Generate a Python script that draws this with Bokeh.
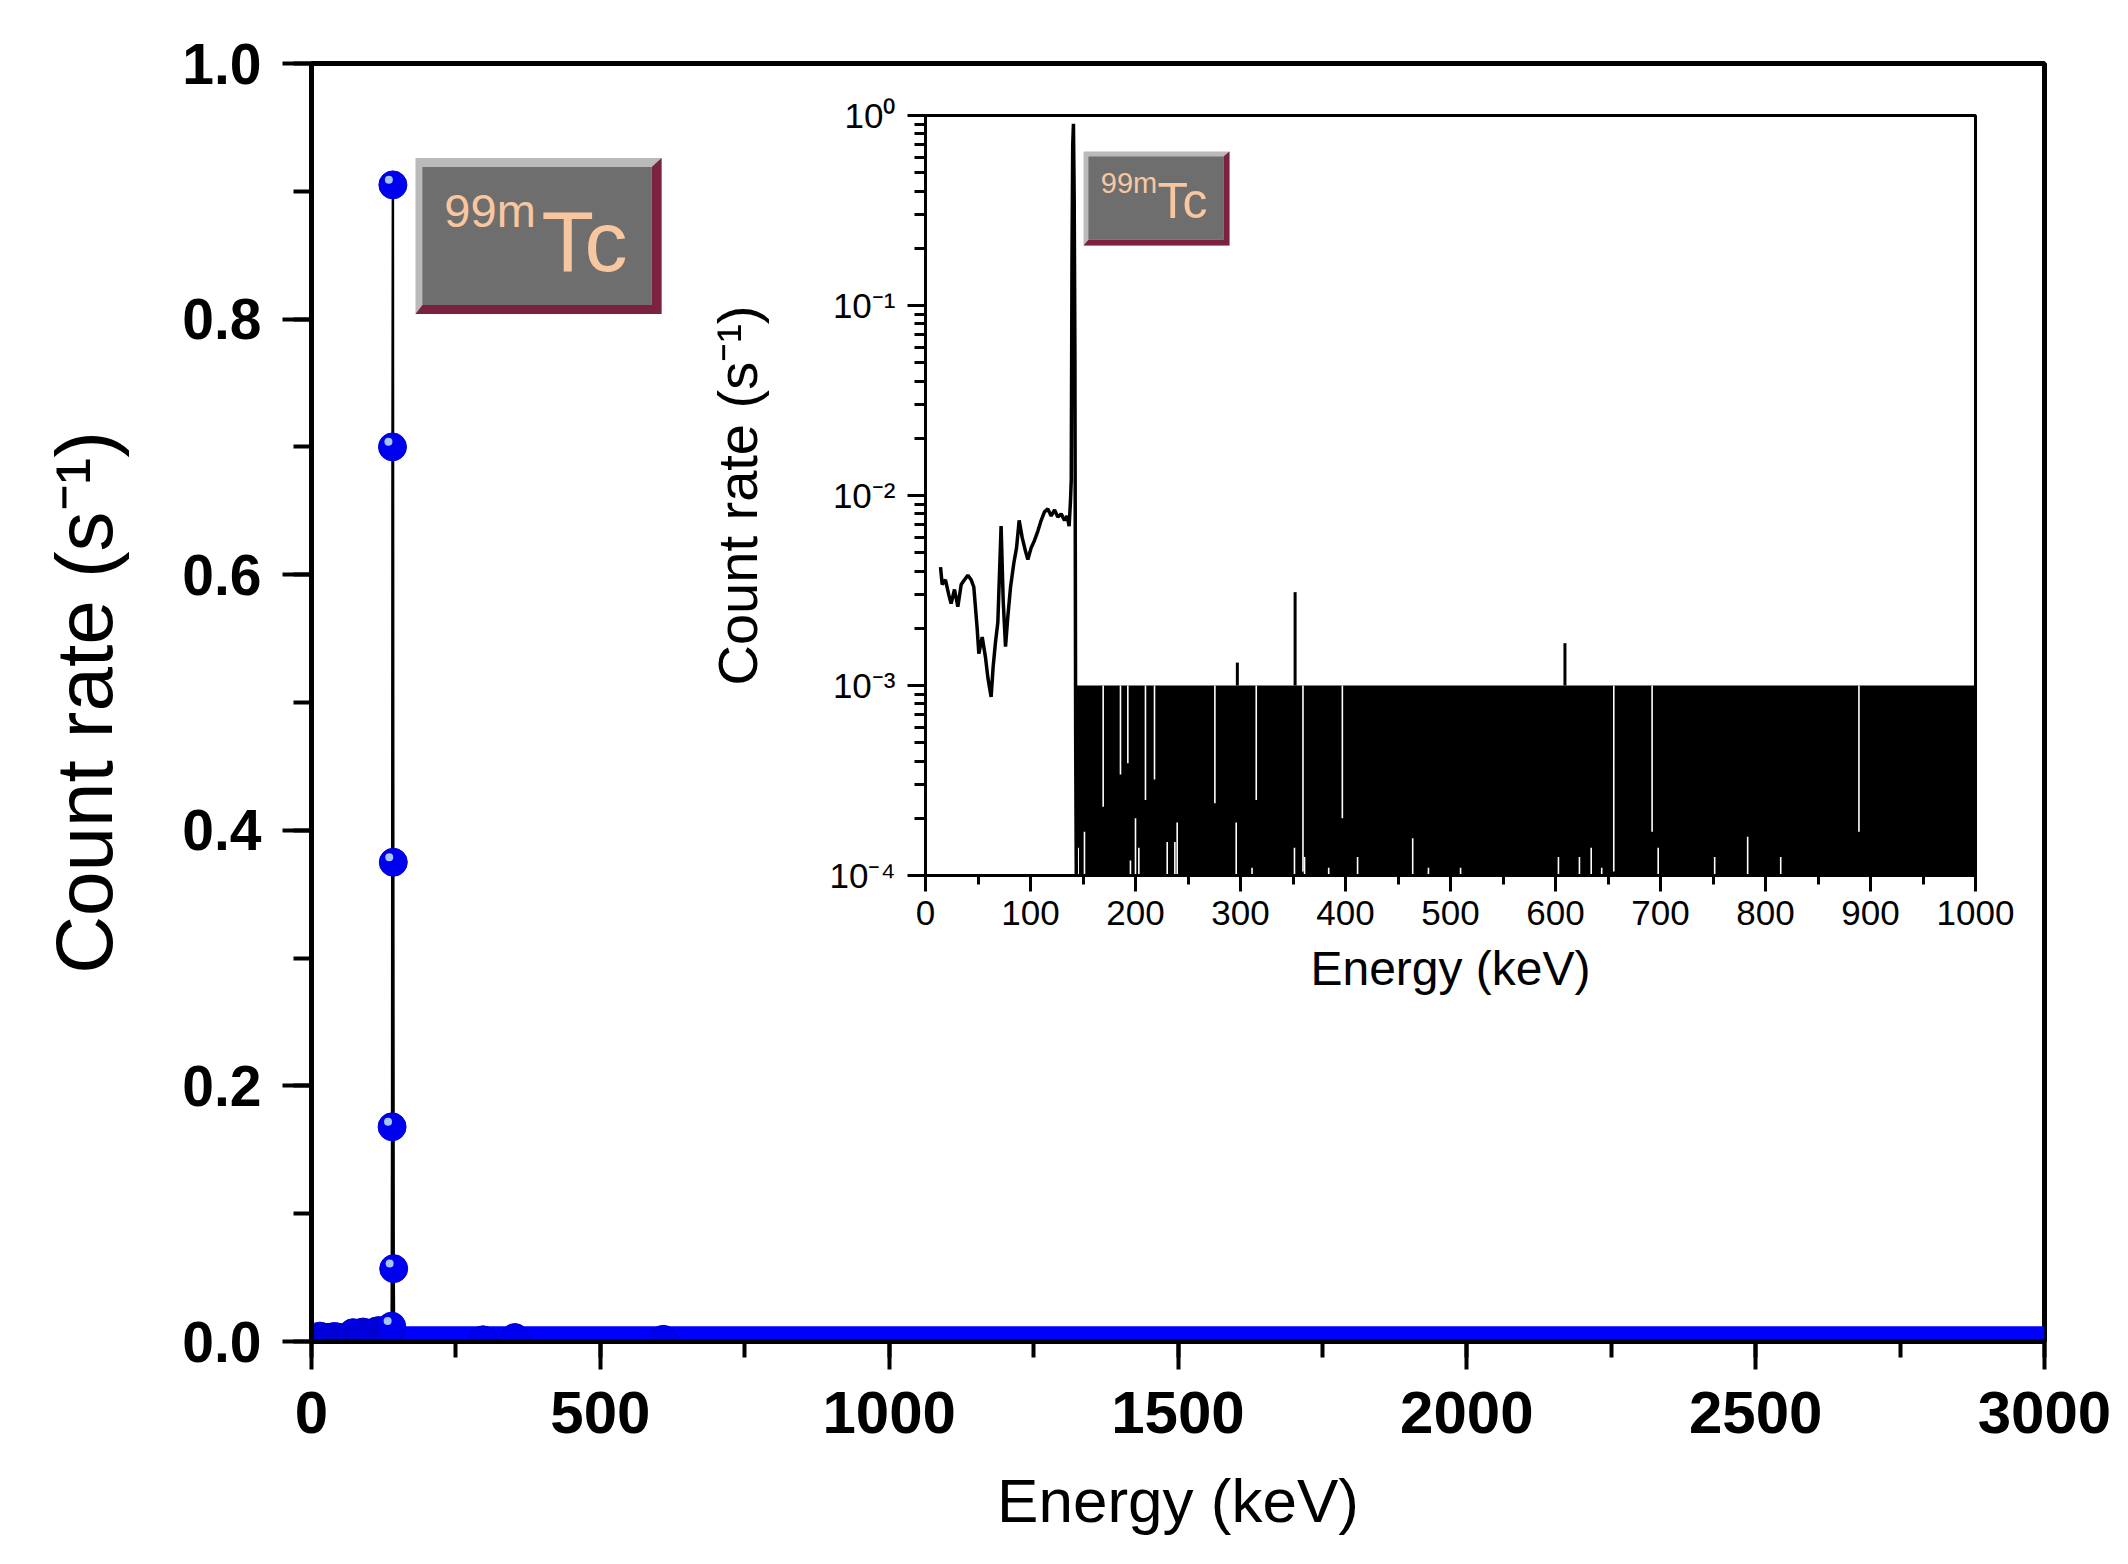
from bokeh.plotting import figure
from bokeh.models import (Range1d, SingleIntervalTicker, LogTicker, CustomJSTickFormatter,
                          Label, ColumnDataSource, Column)
from bokeh.transform import dodge
from bokeh.embed import file_html
from bokeh.resources import INLINE

FONT = "Liberation Sans"

# ---------------- data ----------------
# low-energy part of the spectrum (keV, count rate s^-1)
lo_e = [14.3, 15.9, 19.0, 22.2, 24.4, 27.6, 30.8, 34.0, 37.1, 40.3,
        43.5, 46.0, 49.2, 50.8, 54.0, 57.1, 59.4, 62.5, 64.4, 66.7,
        68.9, 72.0, 74.0, 76.2, 78.4, 81.0, 84.1, 86.7, 89.2, 92.1,
        95.2, 97.5, 100.6, 103.8, 107.0, 110.2, 113.3, 116.5, 119.7, 122.9,
        126.0, 129.2, 132.4, 134.9, 136.8, 138.1]
lo_v = [4.2e-3, 3.4e-3, 3.6e-3, 3.0e-3, 2.7e-3, 3.2e-3, 2.6e-3, 3.4e-3, 3.6e-3, 3.8e-3,
        3.6e-3, 3.3e-3, 2.0e-3, 1.47e-3, 1.8e-3, 1.41e-3, 1.1e-3, 8.7e-4, 1.25e-3, 1.7e-3,
        2.15e-3, 6.9e-3, 2.8e-3, 1.6e-3, 2.3e-3, 3.3e-3, 4.4e-3, 5.3e-3, 7.4e-3, 6.0e-3,
        5.1e-3, 4.6e-3, 5.3e-3, 5.8e-3, 6.5e-3, 7.4e-3, 8.2e-3, 8.5e-3, 7.8e-3, 8.4e-3,
        7.7e-3, 8.0e-3, 7.4e-3, 7.8e-3, 6.9e-3, 9.4e-3]
# 140.5 keV photopeak of 99mTc
peak_e = [138.8, 139.5, 140.2, 140.9, 141.6, 142.3]
peak_v = [0.012, 0.168, 0.700, 0.905, 0.375, 0.057]
# fall after the peak
drop_e = [143.0, 143.6]
drop_v = [5.6e-4, 1.0e-4]
# small peaks above the single-count continuum
spike_e = [297.0, 352.0, 609.0]
spike_v = [1.32e-3, 3.1e-3, 1.67e-3]
# single-count continuum (0 or 1 count per channel -> 0 or 1e-3 s^-1)
cont_e = [143.6, 3000.0]
cont_v = [1.0e-3, 1.0e-3]
cont_floor = [1.0e-4, 1.0e-4]          # zero channels drawn at the log-axis floor
# channels that stay high (white gaps from the top of the continuum)
gap_hi_e = [169.2, 185.7, 192.7, 209.5, 218.1, 275.6, 315.0, 359.5, 397.0, 655.5, 692.0, 889.0]
gap_hi_bottom = [2.3e-4, 3.4e-4, 3.9e-4, 2.5e-4, 3.2e-4, 2.4e-4, 2.5e-4, 1.05e-4, 2.0e-4,
                 1.05e-4, 1.7e-4, 1.7e-4]
# channels that stay low (white gaps from the floor)
gap_lo_e = [145.4, 151.4, 195.2, 200.0, 203.2, 230.2, 237.5, 239.7, 295.9, 311.0,
            351.4, 361.0, 384.0, 411.5, 464.0, 479.0, 509.6, 602.8, 622.8, 634.0,
            644.0, 697.8, 751.6, 783.0, 814.5]
gap_lo_top = [1.4e-4, 1.7e-4, 1.2e-4, 2.0e-4, 1.4e-4, 1.5e-4, 1.5e-4, 1.9e-4, 1.9e-4, 1.1e-4,
              1.4e-4, 1.25e-4, 1.1e-4, 1.25e-4, 1.57e-4, 1.1e-4, 1.1e-4, 1.25e-4, 1.25e-4, 1.4e-4,
              1.1e-4, 1.4e-4, 1.25e-4, 1.6e-4, 1.25e-4]

label_iso = "99m"
label_el = "Tc"
x_title = "Energy (keV)"
y_title = "Count rate (s\u207b\u00b9)"
LABEL_COLOR = "#f8c7a0"

# ---------------- main plot ----------------
MAIN_LEFT, MAIN_RIGHT = 311, 80
main = figure(width=2124, height=1553, x_range=Range1d(0, 3000), y_range=Range1d(0, 1.0),
              output_backend="svg", toolbar_location=None,
              min_border_left=MAIN_LEFT, min_border_top=63, min_border_right=MAIN_RIGHT,
              min_border_bottom=212,
              background_fill_color="white", border_fill_color="white")
main.grid.visible = False
main.outline_line_color = "black"
main.outline_line_width = 5

main.xaxis.ticker = SingleIntervalTicker(interval=500, num_minor_ticks=2)
main.yaxis.ticker = SingleIntervalTicker(interval=0.2, num_minor_ticks=2)
main.yaxis.formatter = CustomJSTickFormatter(code="return tick.toFixed(1);")
for ax in (main.xaxis[0], main.yaxis[0]):
    ax.axis_line_width = 5
    ax.major_tick_line_width = 4
    ax.minor_tick_line_width = 4
    ax.major_tick_in = 0
    ax.minor_tick_in = 0
    ax.major_label_text_font = FONT
    ax.major_label_text_font_style = "bold"
    ax.major_label_text_color = "black"
    ax.axis_label_text_font = FONT
    ax.axis_label_text_font_style = "normal"
    ax.axis_label_text_color = "black"
main.xaxis.major_tick_out = 28
main.xaxis.minor_tick_out = 16
main.yaxis.major_tick_out = 29
main.yaxis.minor_tick_out = 18
main.xaxis.major_label_text_font_size = "60px"
main.yaxis.major_label_text_font_size = "57px"
main.xaxis.major_label_standoff = 22
main.yaxis.major_label_standoff = 21
main.xaxis.axis_label = x_title
main.yaxis.axis_label = y_title
main.xaxis.axis_label_text_font_size = "62px"
main.yaxis.axis_label_text_font_size = "80px"
main.xaxis.axis_label_standoff = 30
main.yaxis.axis_label_standoff = 50

spec_e = lo_e + peak_e + drop_e
spec_v = lo_v + peak_v + drop_v
main.line(spec_e, spec_v, line_color="black", line_width=2.5)
main.line(cont_e, cont_v, line_color="#0000ff", line_width=28)
pts = ColumnDataSource(dict(x=lo_e + peak_e + spike_e, y=lo_v + peak_v + spike_v))
main.scatter("x", "y", source=pts, size=28, fill_color="#0000f0", line_color="#0000c8", line_width=1)
peak_src = ColumnDataSource(dict(x=peak_e, y=peak_v))
main.scatter(dodge("x", -7, range=main.x_range), dodge("y", 0.004, range=main.y_range),
             source=peak_src, size=8, fill_color="#a6c4f6", line_color=None)


def bevel_box(fig, l, r, b, t, fl, fr, fb, ft):
    fig.quad(left=[l], right=[r], bottom=[b], top=[t], fill_color="#bababa", line_color=None)
    fig.patch(x=[l, r, r, fr, fr, fl], y=[b, b, t, ft, fb, fb], fill_color="#7b2243", line_color=None)
    fig.quad(left=[fl], right=[fr], bottom=[fb], top=[ft], fill_color="#6e6e6e", line_color=None)


bevel_box(main, 180, 606, 0.804, 0.926, 192, 589, 0.811, 0.919)
main.add_layout(Label(x=230, y=0.885, text=label_iso, text_font=FONT, text_font_size="47px",
                      text_color=LABEL_COLOR, text_baseline="middle", text_align="left"))
main.add_layout(Label(x=398, y=0.861, text=label_el, text_font=FONT, text_font_size="86px",
                      text_color=LABEL_COLOR, text_baseline="middle", text_align="left"))

# ---------------- inset ----------------
# the column aligns the inner frames of its children, so the inset shares the main borders
INSET_FRAME_W = 1050
inset = figure(width=MAIN_LEFT + INSET_FRAME_W + MAIN_RIGHT, height=940,
               x_range=Range1d(0, 1000), y_range=Range1d(1e-4, 1.0),
               y_axis_type="log", output_backend="svg", toolbar_location=None,
               min_border_left=MAIN_LEFT, min_border_top=40, min_border_right=MAIN_RIGHT,
               min_border_bottom=140,
               background_fill_color="white", border_fill_alpha=0)
inset.styles = {"position": "absolute", "left": f"{925 - MAIN_LEFT}px", "top": "75px", "z-index": "2"}
inset.grid.visible = False
inset.outline_line_color = "black"
inset.outline_line_width = 3
inset.xaxis.ticker = SingleIntervalTicker(interval=100, num_minor_ticks=2)
inset.yaxis.ticker = LogTicker(num_minor_ticks=10)
inset.yaxis.formatter = CustomJSTickFormatter(code="""
const sup = {"0":"\u2070","1":"\u00b9","2":"\u00b2","3":"\u00b3","4":"\u2074","-":"\u207b"};
const e = Math.round(Math.log10(tick));
return "10" + String(e).split("").map(c => sup[c]).join("");
""")
for ax in (inset.xaxis[0], inset.yaxis[0]):
    ax.axis_line_width = 3
    ax.major_tick_line_width = 3
    ax.minor_tick_line_width = 3
    ax.major_tick_in = 0
    ax.minor_tick_in = 0
    ax.major_label_text_font = FONT
    ax.major_label_text_font_size = "35px"
    ax.major_label_text_color = "black"
    ax.axis_label_text_font = FONT
    ax.axis_label_text_font_style = "normal"
    ax.axis_label_text_color = "black"
inset.xaxis.major_tick_out = 16
inset.xaxis.minor_tick_out = 9
inset.yaxis.major_tick_out = 18
inset.yaxis.minor_tick_out = 11
inset.xaxis.major_label_standoff = 9
inset.yaxis.major_label_standoff = 12
inset.xaxis.axis_label = x_title
inset.yaxis.axis_label = y_title
inset.xaxis.axis_label_text_font_size = "48px"
inset.yaxis.axis_label_text_font_size = "56px"
inset.xaxis.axis_label_standoff = 14
inset.yaxis.axis_label_standoff = 58

inset.varea(x=cont_e, y1=cont_floor, y2=cont_v, fill_color="black")
inset.segment(x0=gap_hi_e, y0=[cont_v[0]] * len(gap_hi_e), x1=gap_hi_e, y1=gap_hi_bottom,
              line_color="white", line_width=1.6)
inset.segment(x0=gap_lo_e, y0=[cont_floor[0]] * len(gap_lo_e), x1=gap_lo_e, y1=gap_lo_top,
              line_color="white", line_width=1.6)
inset.segment(x0=spike_e, y0=[cont_v[0]] * len(spike_e), x1=spike_e, y1=spike_v,
              line_color="black", line_width=3)
inset.line(spec_e, spec_v, line_color="black", line_width=3.5)

bevel_box(inset, 150.5, 289.5, 0.207, 0.647, 155.2, 283.8, 0.222, 0.608)
inset.add_layout(Label(x=167, y=0.442, text=label_iso, text_font=FONT, text_font_size="29px",
                       text_color=LABEL_COLOR, text_baseline="middle", text_align="left"))
inset.add_layout(Label(x=221, y=0.355, text=label_el, text_font=FONT, text_font_size="50px",
                       text_color=LABEL_COLOR, text_baseline="middle", text_align="left"))

page = Column(children=[main, inset], styles={"position": "relative"})
open("out.html", "w").write(file_html(page, INLINE))
